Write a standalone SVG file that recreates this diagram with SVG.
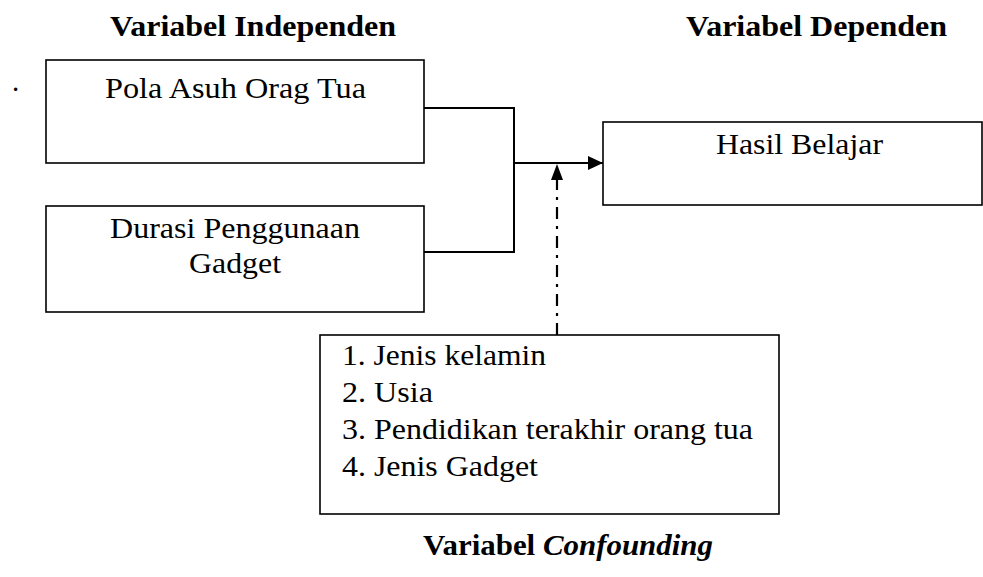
<svg xmlns="http://www.w3.org/2000/svg" width="983" height="577" viewBox="0 0 983 577">
<style>
.box{fill:#fff;stroke:#000;stroke-width:1.6}
.t{font-family:'Liberation Serif','Times New Roman',serif;font-size:29px;fill:#000}
.b{font-weight:bold}
.conn{fill:none;stroke:#000;stroke-width:2}
.dash{fill:none;stroke:#000;stroke-width:2.2;stroke-dasharray:12 7 3 7}
</style>
<defs>
<marker id="arr" markerWidth="15" markerHeight="14" refX="15" refY="7" orient="auto" markerUnits="userSpaceOnUse">
<path d="M0,0 L15,7 L0,14 Z" fill="#000"/>
</marker>
</defs>
<rect width="983" height="577" fill="#fff"/>
<text class="t b" x="110" y="36" textLength="286" lengthAdjust="spacingAndGlyphs">Variabel Independen</text>
<text class="t b" x="686" y="36" textLength="261" lengthAdjust="spacingAndGlyphs">Variabel Dependen</text>
<text class="t" x="12" y="91">.</text>
<g id="connectors">
<path class="conn" d="M424,108 H514 V252 H424"/>
<path class="conn" d="M514,163 H603" marker-end="url(#arr)"/>
<path class="dash" d="M557,335 V178"/>
<path d="M551,180 L557,164 L563,180 Z" fill="#000"/>
</g>
<g id="pola">
<rect class="box" x="46" y="60" width="378" height="103"/>
<text class="t" x="105" y="98" textLength="261" lengthAdjust="spacingAndGlyphs">Pola Asuh Orag Tua</text>
</g>
<g id="durasi">
<rect class="box" x="46" y="206" width="378" height="106"/>
<text class="t" x="110" y="238" textLength="250" lengthAdjust="spacingAndGlyphs">Durasi Penggunaan</text>
<text class="t" x="189" y="273" textLength="92" lengthAdjust="spacingAndGlyphs">Gadget</text>
</g>
<g id="hasil">
<rect class="box" x="603" y="122" width="379" height="83"/>
<text class="t" x="716" y="154" textLength="167" lengthAdjust="spacingAndGlyphs">Hasil Belajar</text>
</g>
<g id="confounding">
<rect class="box" x="320" y="335" width="459" height="179"/>
<text class="t" x="342" y="365" textLength="204" lengthAdjust="spacingAndGlyphs">1. Jenis kelamin</text>
<text class="t" x="342" y="402" textLength="91" lengthAdjust="spacingAndGlyphs">2. Usia</text>
<text class="t" x="342" y="439" textLength="411" lengthAdjust="spacingAndGlyphs">3. Pendidikan terakhir orang tua</text>
<text class="t" x="342" y="476" textLength="196" lengthAdjust="spacingAndGlyphs">4. Jenis Gadget</text>
</g>
<text class="t b" x="423" y="555" textLength="290" lengthAdjust="spacingAndGlyphs">Variabel <tspan font-style="italic">Confounding</tspan></text>
</svg>
